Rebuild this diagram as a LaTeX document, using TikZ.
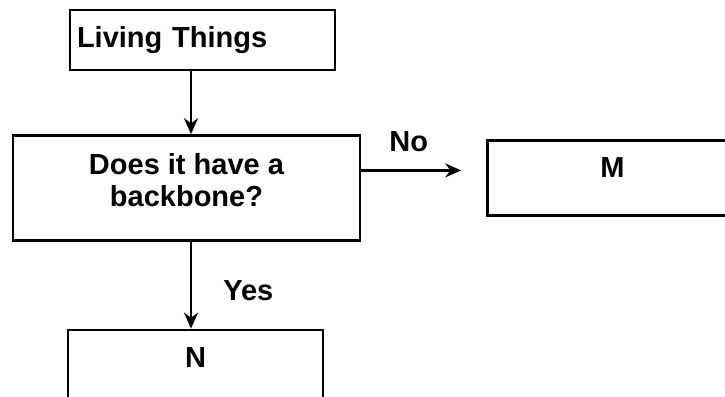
\documentclass[tikz,border=0pt]{standalone}
\usepackage{fontspec}
\setmainfont{Liberation Sans}
\usetikzlibrary{arrows.meta, positioning}

\begin{document}
\begin{tikzpicture}[
    x=1pt, y=1pt,
    box/.style={draw, line width=2.4pt, inner sep=0pt, font=\fontsize{29}{32}\selectfont\bfseries},
    endbox/.style={box, minimum height=75pt, text height=21pt, text depth=21pt},
    arrow/.style={-{Stealth[length=16pt, width=14pt]}, line width=2.6pt},
    lbl/.style={inner sep=0pt, font=\fontsize{29}{32}\selectfont\bfseries},
    node distance=60pt,
]
    \useasboundingbox (0,0) rectangle (725,-396);

    \node[box, minimum height=60pt, text width=251pt, inner xsep=7pt, align=left] (living) at (202.5,-40) {Living Things};
    \node[box, minimum width=347pt, minimum height=105pt, align=center, text depth=16pt, below=63pt of living, xshift=-16pt] (backbone) {Does it have a\\backbone?};
    \node[endbox, minimum width=250pt, right=125pt of backbone, yshift=10pt] (mbox) {M};
    \node[endbox, minimum width=255pt, below=87pt of backbone, xshift=9pt] (nbox) {N};

    \draw[arrow] ([xshift=-11.5pt]living.south) -- ([xshift=-11.5pt]living.south |- backbone.north);
    \draw[arrow, shorten >=25pt] ([yshift=17.5pt]backbone.east) -- ([yshift=17.5pt]backbone.east -| mbox.west) node[lbl, pos=0.38, above=17pt] {No};
    \draw[arrow] ([xshift=4.5pt]backbone.south) -- ([xshift=4.5pt]backbone.south |- nbox.north) node[lbl, pos=0.56, right=31pt] {Yes};
\end{tikzpicture}
\end{document}
